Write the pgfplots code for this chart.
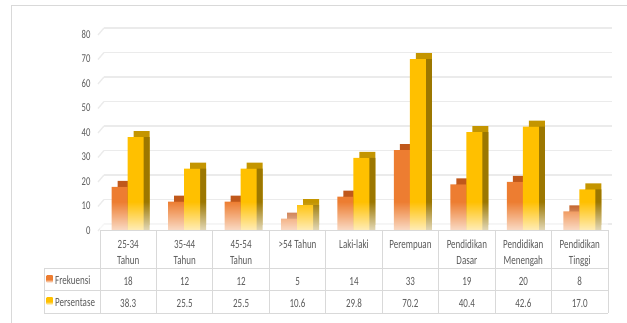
\documentclass[border=0pt]{standalone}
\usepackage{pgfplots}
\pgfplotsset{compat=1.18}
\usepackage{pgfplotstable}
\usepackage{fontspec}
\setmainfont{Carlito}[FakeStretch=0.72]
\usetikzlibrary{fadings}
\definecolor{orF}{HTML}{ED7D31}
\definecolor{orT}{HTML}{C0581B}
\definecolor{orS}{HTML}{A84C14}
\definecolor{yeF}{HTML}{FFC000}
\definecolor{yeT}{HTML}{C49500}
\definecolor{yeS}{HTML}{9C7700}
\definecolor{txt}{HTML}{595959}
\definecolor{tab}{HTML}{D9D9D9}
\definecolor{gridc}{HTML}{EBEBEB}
\tikzfading[name=fadeup, bottom color=transparent!0, top color=transparent!100]

\pgfplotstableread{
x f p
0 18 38.3
1 12 25.5
2 12 25.5
3 5 10.6
4 14 29.8
5 33 70.2
6 19 40.4
7 20 42.6
8 8 17.0
}\data

\begin{document}
\begin{tikzpicture}[x=1pt,y=1pt]
\useasboundingbox (0,0) rectangle (627,323);
\draw[draw=tab, line width=1pt] (11,317) -- (640,317);
\draw[draw=tab, line width=1pt] (11,317) -- (11,-10);
% left wall corners of the grid lines
\foreach \v in {0,10,...,80}
  \draw[draw=gridc, line width=1.3pt] (98,{92+2.45*\v}) -- (104,{92+2.45*\v+7});
\begin{axis}[
  at={(100pt,92pt)}, anchor=south west,
  scale only axis, width=508pt, height=203.35pt,
  xmin=-0.5, xmax=8.5, ymin=0, ymax=83,
  ytick={0,10,...,80},
  xtick={0,...,8},
  xticklabels={{25-34\\Tahun},{35-44\\Tahun},{45-54\\Tahun},{>54 Tahun},{Laki-laki},{Perempuan},{Pendidikan\\Dasar},{Pendidikan\\Menengah},{Pendidikan\\Tinggi}},
  typeset ticklabels with strut,
  axis line style={draw=none},
  major tick length=0pt,
  ymajorgrids,
  major grid style={draw=gridc, line width=1.3pt, yshift=7pt, xshift=4pt},
  /pgf/number format/assume math mode=true,
  yticklabel style={text=txt, font=\fontsize{12}{16}\selectfont, xshift=-6pt},
  xticklabel style={text=txt, font=\fontsize{12.5}{16}\selectfont, align=center, anchor=north, yshift=-2.5pt},
  bar width=16pt,
]
% orange series: top face, side face, front
\addplot[ybar, bar shift=-8.5pt, fill=orT, draw=none, xshift=6pt, yshift=6pt] table[x=x,y=f] {\data};
\addplot[ybar, bar shift=-8.5pt, fill=orS, draw=none, xshift=6pt] table[x=x,y=f] {\data};
\addplot[ybar, bar shift=-8.5pt, fill=orF, draw=none] table[x=x,y=f] {\data};
% yellow series
\addplot[ybar, bar shift=7.5pt, fill=yeT, draw=none, xshift=6pt, yshift=6pt] table[x=x,y=p] {\data};
\addplot[ybar, bar shift=7.5pt, fill=yeS, draw=none, xshift=6pt] table[x=x,y=p] {\data};
\addplot[ybar, bar shift=7.5pt, fill=yeF, draw=none] table[x=x,y=p] {\data};
% fade to white at the floor
\fill[white, path fading=fadeup] (-0.5,-4) rectangle (8.5,12);
\end{axis}
% data table
\begin{scope}[draw=tab, line width=0.8pt]
\draw (100,93) -- (608,93);
\draw (44,55) -- (608,55);
\draw (44,32.5) -- (608,32.5);
\draw (44,10) -- (608,10);
\draw (44,55) -- (44,10);
\foreach \i in {0,...,9} \draw ({100+56.444*\i},93) -- ({100+56.444*\i},10);
\end{scope}
\foreach \f [count=\i from 0] in {18,12,12,5,14,33,19,20,8}
  \node[anchor=base, text=txt, font=\fontsize{12.5}{15}\selectfont, inner sep=0pt] at ({100+56.444*(\i+0.5)},37) {\f};
\foreach \p [count=\i from 0] in {38.3,25.5,25.5,10.6,29.8,70.2,40.4,42.6,17.0}
  \node[anchor=base, text=txt, font=\fontsize{12.5}{15}\selectfont, inner sep=0pt] at ({100+56.444*(\i+0.5)},15) {\p};
\shade[top color=orF, bottom color=white, middle color=orF] (46.7,40.3) rectangle (52.7,47);
\shade[top color=yeF, bottom color=white, middle color=yeF] (46.7,18) rectangle (52.7,25);
\node[anchor=base west, text=txt, font=\fontsize{12.5}{15}\selectfont, inner sep=0pt] at (55,38.5) {Frekuensi};
\node[anchor=base west, text=txt, font=\fontsize{12.5}{15}\selectfont, inner sep=0pt] at (55,16) {Persentase};
\end{tikzpicture}
\end{document}
